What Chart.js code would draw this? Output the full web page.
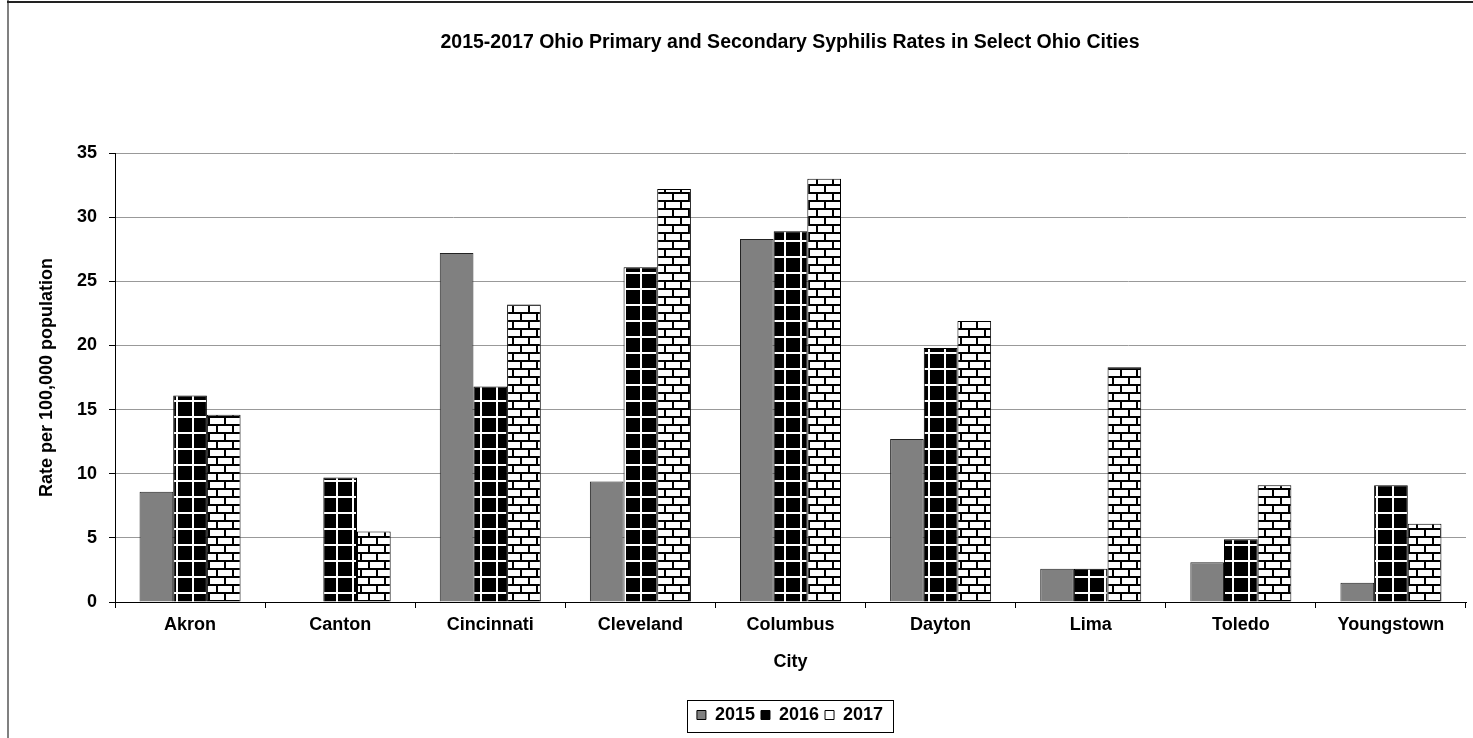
<!DOCTYPE html>
<html>
<head>
<meta charset="utf-8">
<script src="https://cdn.jsdelivr.net/npm/chart.js@4"></script>
<style>
  html, body { margin: 0; padding: 0; background: #fff; }
  #wrap { width: 1473px; height: 738px; position: relative; }
</style>
</head>
<body>
<div id="wrap"><canvas id="c" width="1473" height="738"></canvas></div>
<script>
const categories = ['Akron', 'Canton', 'Cincinnati', 'Cleveland', 'Columbus', 'Dayton', 'Lima', 'Toledo', 'Youngstown'];
const rates2015 = [8.6, null, 27.2, 9.4, 28.3, 12.7, 2.6, 3.1, 1.5];
const rates2016 = [16.1, 9.7, 16.8, 26.1, 28.9, 19.8, 2.6, 4.9, 9.1];
const rates2017 = [14.6, 5.5, 23.2, 32.2, 33.0, 21.9, 18.3, 9.1, 6.1];
const seriesLabels = ['2015', '2016', '2017'];
const chartTitle = '2015-2017 Ohio Primary and Secondary Syphilis Rates in Select Ohio Cities';
const yTitle = 'Rate per 100,000 population';
const xTitle = 'City';

const FONT = '"Liberation Sans", Arial, sans-serif';

function gridPattern() {
  const c = document.createElement('canvas');
  c.width = 16; c.height = 16;
  const g = c.getContext('2d');
  g.fillStyle = '#000'; g.fillRect(0, 0, 16, 16);
  g.fillStyle = '#fff';
  g.fillRect(0, 0, 16, 2);
  g.fillRect(0, 0, 2, 16);
  return g.createPattern(c, 'repeat');
}
function brickPattern() {
  const c = document.createElement('canvas');
  c.width = 16; c.height = 16;
  const g = c.getContext('2d');
  g.fillStyle = '#fff'; g.fillRect(0, 0, 16, 16);
  g.fillStyle = '#000';
  g.fillRect(0, 0, 16, 2);
  g.fillRect(0, 8, 16, 2);
  g.fillRect(0, 0, 2, 8);
  g.fillRect(8, 8, 2, 8);
  return g.createPattern(c, 'repeat');
}

const framePlugin = {
  id: 'frame',
  beforeDraw(chart) {
    const ctx = chart.ctx;
    ctx.save();
    ctx.fillStyle = '#808080';
    ctx.fillRect(7, 0, 2, chart.height);
    ctx.fillStyle = '#222';
    ctx.fillRect(7, 1, chart.width - 7, 2);
    ctx.restore();
  },
  afterDraw(chart) {
    const lg = chart.legend;
    if (!lg || !lg.legendHitBoxes || !lg.legendHitBoxes.length) return;
    const hb = lg.legendHitBoxes;
    let l = Infinity, r = -Infinity, t = Infinity, b = -Infinity;
    hb.forEach(h => {
      l = Math.min(l, h.left); r = Math.max(r, h.left + h.width);
      t = Math.min(t, h.top); b = Math.max(b, h.top + h.height);
    });
    const ctx = chart.ctx;
    ctx.save();
    ctx.strokeStyle = '#000';
    ctx.lineWidth = 1;
    ctx.strokeRect(Math.round(l - 10) + 0.5, Math.round(t - 6) + 0.5, Math.round(r - l + 20), Math.round(b - t + 14));
    ctx.restore();
  }
};

new Chart(document.getElementById('c'), {
  type: 'bar',
  data: {
    labels: categories,
    datasets: [
      { label: seriesLabels[0], data: rates2015, backgroundColor: '#808080', borderColor: '#222', borderWidth: 1 },
      { label: seriesLabels[1], data: rates2016, backgroundColor: gridPattern(), borderColor: '#000', borderWidth: 1 },
      { label: seriesLabels[2], data: rates2017, backgroundColor: brickPattern(), borderColor: '#000', borderWidth: 1 }
    ]
  },
  options: {
    responsive: false,
    animation: false,
    devicePixelRatio: 1,
    layout: { padding: { left: 114, right: 7, top: 0, bottom: 4 } },
    datasets: { bar: { categoryPercentage: 0.673, barPercentage: 1 } },
    plugins: {
      title: {
        display: true,
        text: chartTitle,
        color: '#000',
        font: { family: FONT, size: 19.5, weight: 'bold' },
        padding: { top: 31, bottom: 98.6 }
      },
      legend: {
        display: true,
        position: 'bottom',
        labels: {
          color: '#000',
          font: { family: FONT, size: 18, weight: 'bold' },
          boxWidth: 9,
          boxHeight: 9,
          padding: 6,
          generateLabels(chart) {
            const fills = ['#808080', '#000', '#fff'];
            return chart.data.datasets.map((ds, i) => ({
              text: ds.label,
              fillStyle: fills[i],
              strokeStyle: '#000',
              lineWidth: 1,
              hidden: false,
              datasetIndex: i,
              fontColor: '#000'
            }));
          }
        }
      },
      tooltip: { enabled: false }
    },
    scales: {
      x: {
        offset: true,
        grid: { display: true, drawOnChartArea: false, offset: true, color: '#000', tickColor: '#000', tickLength: 6 },
        border: { display: true, color: '#000', width: 1 },
        ticks: { color: '#000', font: { family: FONT, size: 18, weight: 'bold' }, padding: 6, maxRotation: 0, autoSkip: false },
        title: { display: true, text: xTitle, color: '#000', font: { family: FONT, size: 18, weight: 'bold' }, padding: { top: 0, bottom: 27 } },
        afterFit(scale) { scale.height = 98; }
      },
      y: {
        min: 0, max: 35,
        ticks: { stepSize: 5, color: '#000', font: { family: FONT, size: 18, weight: 'bold' }, mirror: true, crossAlign: 'far', padding: -38 },
        grid: { color: '#999', lineWidth: 1, tickColor: '#000', tickLength: 6 },
        border: { display: true, color: '#000', width: 1 },
        title: { display: true, text: yTitle, color: '#000', font: { family: FONT, size: 18, weight: 'bold' }, padding: { top: -77.8, bottom: 0 } },
        afterFit(scale) { scale.width = 1; }
      }
    }
  },
  plugins: [framePlugin]
});
</script>
</body>
</html>
